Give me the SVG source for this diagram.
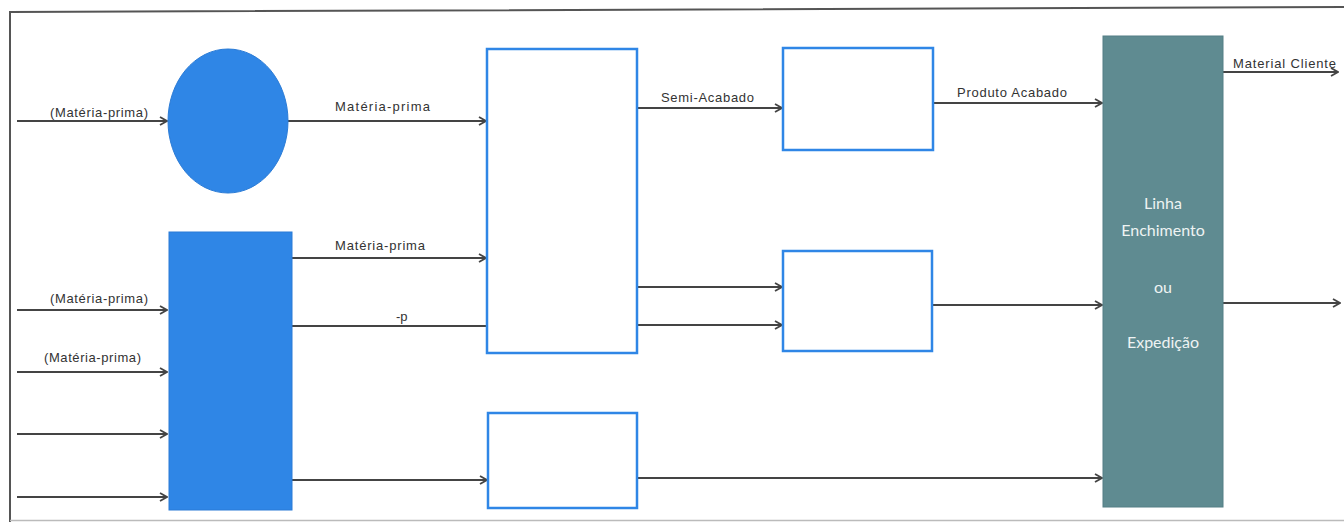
<svg xmlns="http://www.w3.org/2000/svg" width="1344" height="522" viewBox="0 0 1344 522">
<style>
.lbl{font-family:"Liberation Sans",Arial,sans-serif;font-size:13px;fill:#333}
.wl{font-family:Lato,"Open Sans",sans-serif;font-size:16px;fill:#eef3f3;text-anchor:middle}
.conn{stroke:#444;stroke-width:2;fill:none}
.box{fill:#fff;stroke:#2f86e6;stroke-width:2.5}
.solid{fill:#2f86e6;stroke:#2a7bd6;stroke-width:1}
</style>
<defs>
<marker id="ah" viewBox="0 0 10 10" refX="9" refY="5" markerWidth="10" markerHeight="10" markerUnits="userSpaceOnUse" orient="auto">
<path d="M2,1 L9,5 L2,9" fill="none" stroke="#444" stroke-width="1.8"/>
</marker>
</defs>
<rect width="1344" height="522" fill="#fff"/>
<g id="frame">
<path d="M10,522 L10,12 L1344,7" fill="none" stroke="#555" stroke-width="2"/>
<line x1="10" y1="520.5" x2="1344" y2="520.5" stroke="#bbb" stroke-width="1.5"/>
</g>
<g id="connectors">
<line class="conn" x1="17" y1="121" x2="167" y2="121" marker-end="url(#ah)"/>
<line class="conn" x1="288" y1="121" x2="486" y2="121" marker-end="url(#ah)"/>
<line class="conn" x1="292" y1="258" x2="486" y2="258" marker-end="url(#ah)"/>
<line class="conn" x1="292" y1="326" x2="487" y2="326"/>
<line class="conn" x1="17" y1="310" x2="167" y2="310" marker-end="url(#ah)"/>
<line class="conn" x1="17" y1="372" x2="167" y2="372" marker-end="url(#ah)"/>
<line class="conn" x1="17" y1="434" x2="167" y2="434" marker-end="url(#ah)"/>
<line class="conn" x1="17" y1="497" x2="167" y2="497" marker-end="url(#ah)"/>
<line class="conn" x1="292" y1="480" x2="487" y2="480" marker-end="url(#ah)"/>
<line class="conn" x1="637" y1="108" x2="782" y2="108" marker-end="url(#ah)"/>
<line class="conn" x1="637" y1="287" x2="782" y2="287" marker-end="url(#ah)"/>
<line class="conn" x1="637" y1="325" x2="782" y2="325" marker-end="url(#ah)"/>
<line class="conn" x1="933" y1="103" x2="1102" y2="103" marker-end="url(#ah)"/>
<line class="conn" x1="932" y1="305" x2="1102" y2="305" marker-end="url(#ah)"/>
<line class="conn" x1="637" y1="478" x2="1102" y2="478" marker-end="url(#ah)"/>
<line class="conn" x1="1223" y1="72" x2="1338" y2="72" marker-end="url(#ah)"/>
<line class="conn" x1="1223" y1="303" x2="1340" y2="303" marker-end="url(#ah)"/>
<text class="lbl" x="50" y="117" textLength="98">(Matéria-prima)</text>
<text class="lbl" x="335" y="111" textLength="95">Matéria-prima</text>
<text class="lbl" x="335" y="250" textLength="90">Matéria-prima</text>
<text class="lbl" x="396" y="321">-p</text>
<text class="lbl" x="50" y="303" textLength="98">(Matéria-prima)</text>
<text class="lbl" x="44" y="362" textLength="97">(Matéria-prima)</text>
<text class="lbl" x="661" y="102" textLength="93">Semi-Acabado</text>
<text class="lbl" x="957" y="97" textLength="110">Produto Acabado</text>
<text class="lbl" x="1233" y="68" textLength="103">Material Cliente</text>
</g>
<g id="circle"><ellipse class="solid" cx="228" cy="121" rx="60" ry="72"/></g>
<g id="blueRect"><rect class="solid" x="169" y="232" width="123" height="278"/></g>
<g id="box1"><rect class="box" x="487" y="49" width="150" height="304"/></g>
<g id="box2"><rect class="box" x="783" y="48" width="150" height="102"/></g>
<g id="box3"><rect class="box" x="783" y="251" width="149" height="100"/></g>
<g id="box4"><rect class="box" x="488" y="413" width="149" height="95"/></g>
<g id="linha">
<rect x="1103" y="36" width="120" height="471" fill="#5f8b91" stroke="#557f85" stroke-width="1"/>
<text class="wl" x="1163" y="209">Linha</text>
<text class="wl" x="1163" y="236">Enchimento</text>
<text class="wl" x="1163" y="293">ou</text>
<text class="wl" x="1163" y="348">Expedição</text>
</g>
</svg>
